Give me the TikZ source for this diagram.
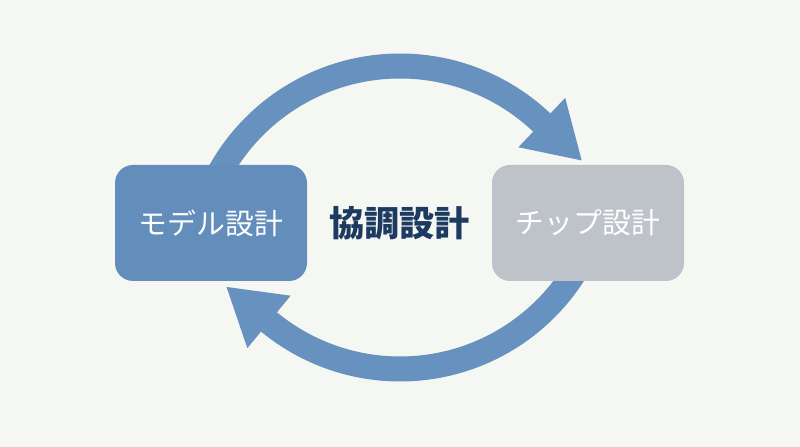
\documentclass[tikz,border=0pt]{standalone}
\usepackage{fontspec}
\setmainfont{Noto Sans CJK JP}
\usetikzlibrary{positioning, arrows.meta, calc}
\definecolor{fondo}{HTML}{F5F7F2}
\definecolor{azulcaja}{HTML}{638EBC}
\definecolor{azulflecha}{HTML}{6791BE}
\definecolor{griscaja}{HTML}{BEC3CA}
\definecolor{azultexto}{HTML}{1D3A60}
\tikzset{
	node distance=4.7125cm, % Distancia entre los centros
	caja/.style={rounded corners=0.45cm, minimum width=4.8cm, minimum height=2.9cm, inner sep=0pt,
		text=white, font=\fontsize{20.5}{24}\selectfont}, % Cajas de las dos etapas
	flecha/.style={draw=azulflecha, line width=0.625cm,
		-{Triangle[length=1.375cm, width=1.7cm, line width=0pt]}} % Flechas curvas gruesas
}

\begin{document}
\begin{tikzpicture}
	\fill[fondo] (0,0) rectangle (20,11.175);
	\coordinate (cArriba) at (10,4.375);
	\coordinate (cAbajo) at (10,7.1);
	\coordinate (ini1) at ($(cArriba)+(155:5.15)$);
	\coordinate (ini2) at ($(cAbajo)+(-25:5.15)$);
	% flechas primero, las cajas quedan encima
	\draw[flecha] (ini1) arc[start angle=155, end angle=46.5, radius=5.15] -- ++(-43.5:1.375);
	\draw[flecha] (ini2) arc[start angle=-25, end angle=-129.5, radius=5.15] -- ++(140.5:1.375);
	\node[caja, fill=azulcaja] (modelo) at (5.275,5.6) {モデル設計};
	\node[right of=modelo, text=azultexto, font=\fontsize{25}{29}\selectfont\bfseries] (coop) {協調設計};
	\node[caja, fill=griscaja, right of=coop] (chip) {チップ設計};
\end{tikzpicture}
\end{document}
